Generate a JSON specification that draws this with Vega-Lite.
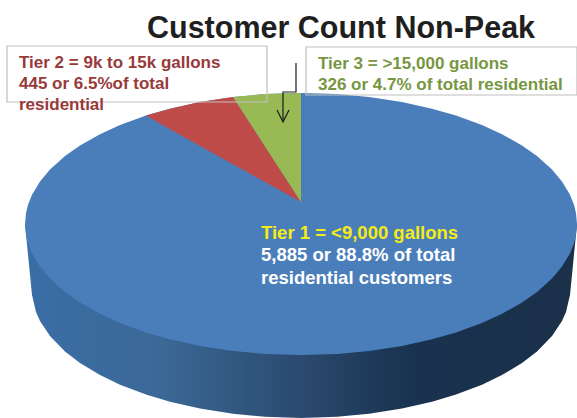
{
"$schema":"https://vega.github.io/schema/vega-lite/v6.json",
"width":577,"height":418,"padding":0,"autosize":{"type":"none"},
"background":"white","view":{"stroke":null},
"title":{"text":"Customer Count Non-Peak","anchor":"start","dx":147,"offset":-68,"baseline":"alphabetic","font":"Liberation Sans","fontSize":30.5,"fontWeight":"bold","color":"#1f1f1f"},
"datasets":{
"side":[{"x":25,"y":224,"y2":224},{"x":32,"y":224,"y2":295},{"x":36,"y":224,"y2":312},{"x":40,"y":224,"y2":321},{"x":50,"y":224,"y2":336},{"x":65,"y":224,"y2":351.4},{"x":80,"y":224,"y2":363},{"x":100,"y":224,"y2":375},{"x":120,"y":224,"y2":384.7},{"x":146,"y":224,"y2":394.6},{"x":170,"y":224,"y2":401.8},{"x":200,"y":224,"y2":408.6},{"x":233,"y":224,"y2":413.8},{"x":265,"y":224,"y2":416.8},{"x":301,"y":224,"y2":418},{"x":337,"y":224,"y2":416.8},{"x":369,"y":224,"y2":413.8},{"x":402,"y":224,"y2":408.6},{"x":432,"y":224,"y2":401.8},{"x":456,"y":224,"y2":394.6},{"x":482,"y":224,"y2":384.7},{"x":502,"y":224,"y2":375},{"x":522,"y":224,"y2":363},{"x":537,"y":224,"y2":351.4},{"x":552,"y":224,"y2":336},{"x":562,"y":224,"y2":321},{"x":566,"y":224,"y2":312},{"x":570,"y":224,"y2":295},{"x":577,"y":224,"y2":224}],
"face":[{"x":25,"y":224,"y2":224},{"x":26,"y":212.9,"y2":235.1},{"x":28,"y":204.7,"y2":243.3},{"x":32,"y":194.7,"y2":253.3},{"x":40,"y":181.4,"y2":266.6},{"x":50,"y":169.5,"y2":278.5},{"x":65,"y":156.1,"y2":291.9},{"x":80,"y":145.5,"y2":302.5},{"x":100,"y":134.2,"y2":313.8},{"x":120,"y":125.1,"y2":322.9},{"x":146,"y":115.6,"y2":332.4},{"x":170,"y":108.7,"y2":339.3},{"x":200,"y":102.1,"y2":345.9},{"x":233,"y":97,"y2":351},{"x":265,"y":94.1,"y2":353.9},{"x":301,"y":93,"y2":355},{"x":337,"y":94.1,"y2":353.9},{"x":369,"y":97,"y2":351},{"x":402,"y":102.1,"y2":345.9},{"x":432,"y":108.7,"y2":339.3},{"x":456,"y":115.6,"y2":332.4},{"x":482,"y":125.1,"y2":322.9},{"x":502,"y":134.2,"y2":313.8},{"x":522,"y":145.5,"y2":302.5},{"x":537,"y":156.1,"y2":291.9},{"x":552,"y":169.5,"y2":278.5},{"x":562,"y":181.4,"y2":266.6},{"x":570,"y":194.7,"y2":253.3},{"x":574,"y":204.7,"y2":243.3},{"x":576,"y":212.9,"y2":235.1},{"x":577,"y":224,"y2":224}],
"tier2":[{"x":146,"y":115.6,"y2":115.6},{"x":170,"y":108.7,"y2":129.3},{"x":200,"y":102.1,"y2":146},{"x":233,"y":97,"y2":164.3},{"x":301,"y":202,"y2":202}],
"tier3":[{"x":233,"y":97,"y2":97},{"x":265,"y":94.1,"y2":146.4},{"x":301,"y":93,"y2":202}],
"boxes":[{"name":"Tier 2","x":7,"x2":267,"y":46,"y2":102},{"name":"Tier 3","x":306,"x2":577,"y":47,"y2":95}],
"arrow":[{"part":"stem","x":296,"y":63,"o":1},{"part":"stem","x":296,"y":92,"o":2},{"part":"stem","x":283,"y":92,"o":3},{"part":"stem","x":283,"y":122,"o":4},{"part":"head","x":277,"y":110,"o":1},{"part":"head","x":283,"y":122,"o":2},{"part":"head","x":289,"y":110,"o":3}],
"labelsTop":[
{"text":"Tier 2 = 9k to 15k gallons","x":19,"y":68,"tier":"t2"},
{"text":"445 or 6.5%of total","x":19,"y":89,"tier":"t2"},
{"text":"residential","x":19,"y":110,"tier":"t2"},
{"text":"Tier 3 = >15,000 gallons","x":318,"y":69,"tier":"t3"},
{"text":"326 or 4.7% of total residential","x":318,"y":90,"tier":"t3"}],
"labelsPie":[
{"text":"Tier 1 = <9,000 gallons","x":261,"y":239,"tier":"t1"},
{"text":"5,885 or 88.8% of total","x":261,"y":261,"tier":"t1b"},
{"text":"residential customers","x":261,"y":284,"tier":"t1b"}]
},
"layer":[
{"data":{"name":"side"},"mark":{"type":"area","color":{"gradient":"linear","x1":0,"y1":0,"x2":1,"y2":0,"stops":[{"offset":0,"color":"#3A6EA6"},{"offset":0.25,"color":"#3B6896"},{"offset":0.5,"color":"#2A4A6E"},{"offset":0.7,"color":"#19324F"},{"offset":1,"color":"#1B3049"}]}},
"encoding":{"x":{"field":"x","type":"quantitative","scale":{"domain":[0,577]},"axis":null},"y":{"field":"y","type":"quantitative","scale":{"domain":[418,0]},"axis":null},"y2":{"field":"y2"}}},
{"data":{"name":"face"},"mark":{"type":"area","color":"#4A7EBB","interpolate":"linear"},
"encoding":{"x":{"field":"x","type":"quantitative","scale":{"domain":[0,577]},"axis":null},"y":{"field":"y","type":"quantitative","scale":{"domain":[418,0]},"axis":null},"y2":{"field":"y2"}}},
{"data":{"name":"tier2"},"mark":{"type":"area","color":"#BE4B48"},
"encoding":{"x":{"field":"x","type":"quantitative","scale":{"domain":[0,577]},"axis":null},"y":{"field":"y","type":"quantitative","scale":{"domain":[418,0]},"axis":null},"y2":{"field":"y2"}}},
{"data":{"name":"tier3"},"mark":{"type":"area","color":"#98B954"},
"encoding":{"x":{"field":"x","type":"quantitative","scale":{"domain":[0,577]},"axis":null},"y":{"field":"y","type":"quantitative","scale":{"domain":[418,0]},"axis":null},"y2":{"field":"y2"}}},
{"data":{"name":"boxes"},"mark":{"type":"rect","fill":null,"stroke":"#BFBFBF","strokeWidth":1.2},
"encoding":{"x":{"field":"x","type":"quantitative","scale":{"domain":[0,577]},"axis":null},"x2":{"field":"x2"},"y":{"field":"y","type":"quantitative","scale":{"domain":[418,0]},"axis":null},"y2":{"field":"y2"}}},
{"data":{"name":"arrow"},"mark":{"type":"line","color":"#1a1a1a","strokeWidth":1.2},
"encoding":{"x":{"field":"x","type":"quantitative","scale":{"domain":[0,577]},"axis":null},"y":{"field":"y","type":"quantitative","scale":{"domain":[418,0]},"axis":null},"detail":{"field":"part"},"order":{"field":"o","type":"quantitative"}}},
{"data":{"name":"labelsTop"},"mark":{"type":"text","align":"left","baseline":"alphabetic","font":"Liberation Sans","fontSize":17,"fontWeight":"bold"},
"encoding":{"x":{"field":"x","type":"quantitative","scale":{"domain":[0,577]},"axis":null},"y":{"field":"y","type":"quantitative","scale":{"domain":[418,0]},"axis":null},"text":{"field":"text"},
"color":{"field":"tier","type":"nominal","legend":null,"scale":{"domain":["t1","t1b","t2","t3"],"range":["#F5EC16","#FFFFFF","#983A3A","#76963F"]}}}},
{"data":{"name":"labelsPie"},"mark":{"type":"text","align":"left","baseline":"alphabetic","font":"Liberation Sans","fontSize":18.5,"fontWeight":"bold"},
"encoding":{"x":{"field":"x","type":"quantitative","scale":{"domain":[0,577]},"axis":null},"y":{"field":"y","type":"quantitative","scale":{"domain":[418,0]},"axis":null},"text":{"field":"text"},
"color":{"field":"tier","type":"nominal","legend":null,"scale":{"domain":["t1","t1b","t2","t3"],"range":["#F5EC16","#FFFFFF","#983A3A","#76963F"]}}}}
]
}
